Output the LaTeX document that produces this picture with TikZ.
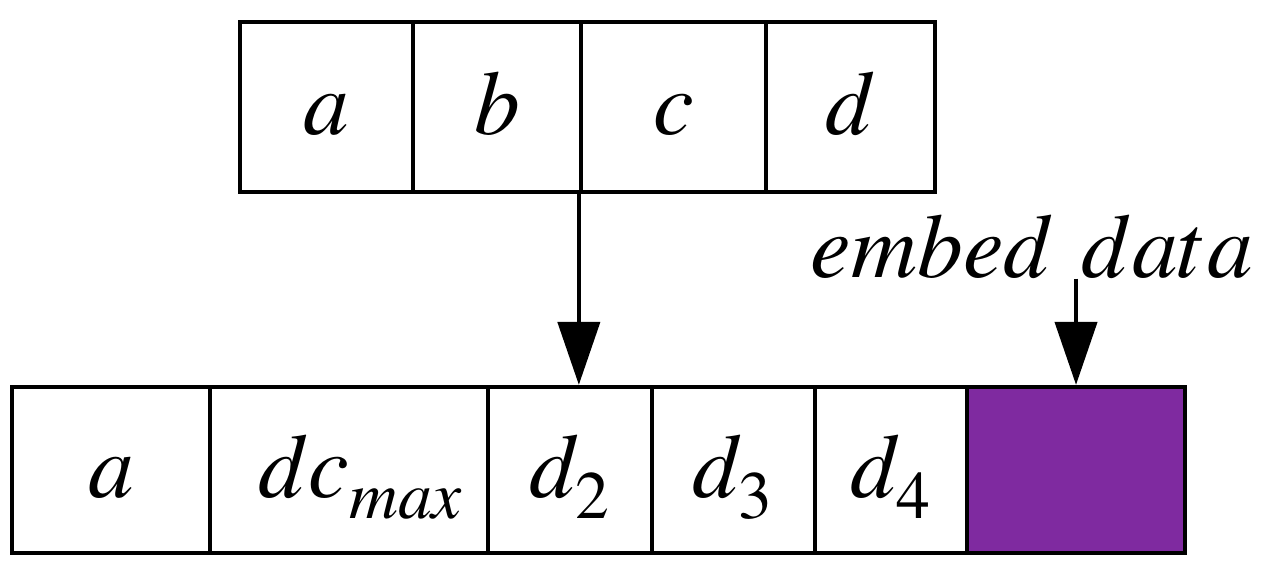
\documentclass[tikz,border=0pt]{standalone}
\usepackage{mathptmx}
\usepackage{xcolor}
\usetikzlibrary{arrows.meta,positioning}
\definecolor{embpurple}{RGB}{127,42,160}
\newcommand{\lsub}[1]{_{\raisebox{-2.3pt}{$\scriptstyle #1$}}}

\begin{document}
\begin{tikzpicture}[x=0.01cm, y=-0.01cm,
		cell/.style={draw, line width=1.2pt, inner sep=0pt, text height=0.60cm, text depth=0.06cm,
			font=\fontsize{26}{30}\selectfont},
		toprow/.style={cell, minimum height=1.70cm},
		botrow/.style={cell, minimum height=1.66cm},
		bigarrow/.style={-{Triangle[length=0.63cm, width=0.42cm]}, line width=1.2pt}]
			\useasboundingbox (0,0) rectangle (1271,581);
			% word before the step
			\node[toprow, minimum width=1.73cm] (a) at (326.5,107) {$a$};
			\node[toprow, minimum width=1.68cm] (b) at (497,107) {$b$};
			\node[toprow, minimum width=1.85cm] (c) at (673.5,107) {$c$};
			\node[toprow, minimum width=1.69cm] (d) at (850.5,107) {$d$};
			% word after the step
			\node[botrow, minimum width=1.98cm] (a2) at (111,470) {$a$};
			\node[botrow, minimum width=2.78cm] (dc) at (349,470) {\hspace*{0.24cm}$dc\lsub{max}$};
			\node[botrow, minimum width=1.64cm] (d2) at (570,470) {$d\lsub{2}$};
			\node[botrow, minimum width=1.63cm] (d3) at (733.5,470) {$d\lsub{3}$};
			\node[botrow, minimum width=1.52cm] (d4) at (891,470) {$d\lsub{4}$};
			\node[botrow, minimum width=2.18cm, fill=embpurple] (ed) at (1076,470) {};
			\node[font=\fontsize{26}{30}\selectfont, inner sep=0pt, anchor=base] (emb) at (1032,277) {$embed\ data$};
			\draw[bigarrow] (c.south west) -- (c.south west |- d2.north);
			\draw[bigarrow] (emb.south -| ed.north) -- (ed.north);
		\end{tikzpicture}
\end{document}
